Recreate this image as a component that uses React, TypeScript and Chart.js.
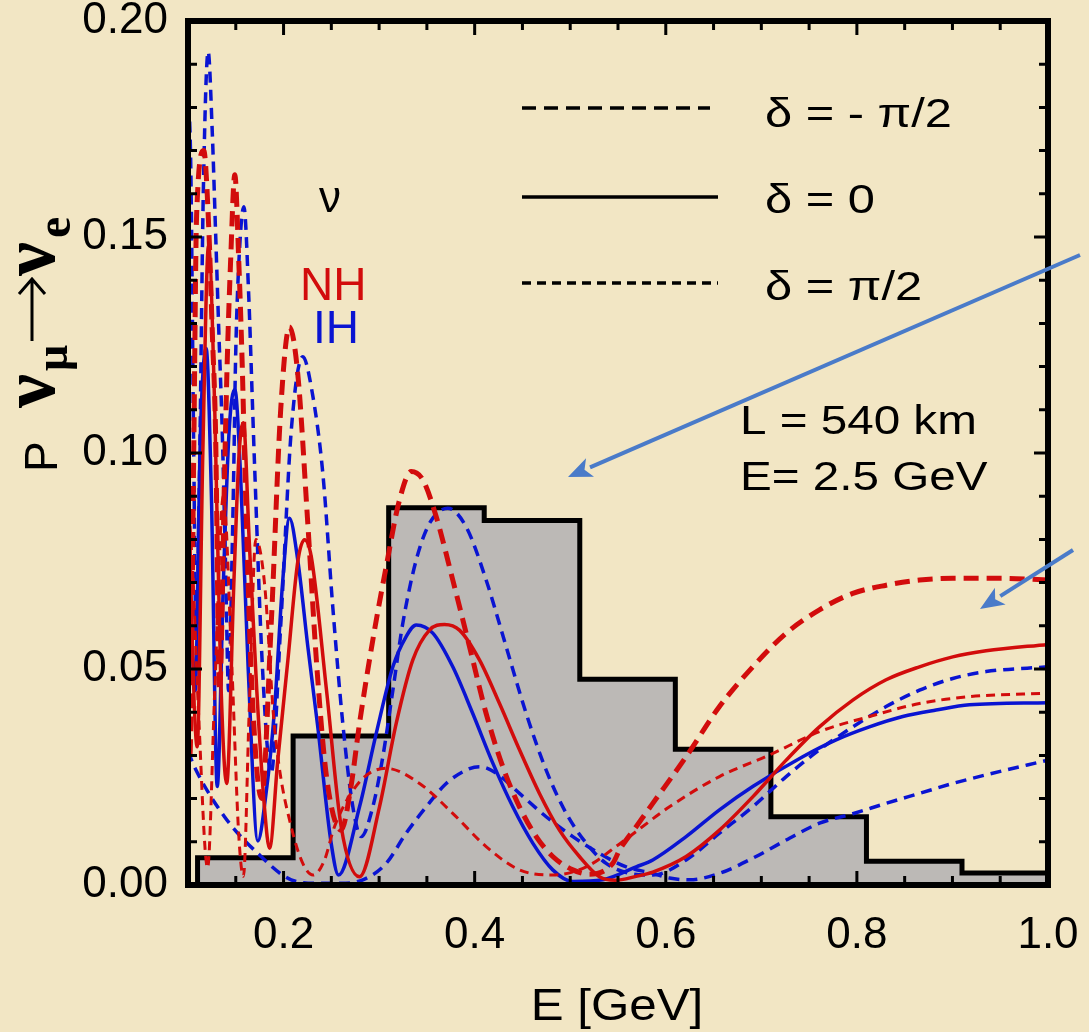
import React, { useEffect, useRef } from "react";
import { Chart, registerables } from "chart.js";

Chart.register(...registerables);

// ---------- data ----------
const binEdges = [0.11, 0.21, 0.31, 0.41, 0.51, 0.61, 0.71, 0.81, 0.91, 1.0];
const binValues = [0.0063, 0.0345, 0.0873, 0.0844, 0.0476, 0.0314, 0.0158, 0.0055, 0.0028];

// NH, delta = -pi/2  (red, thick long dash)
const nhMinus: [number, number][] = [
  [0.1, 0.035], [0.102, 0.03], [0.106, 0.1], [0.109, 0.155], [0.1165, 0.17], [0.1218, 0.1517],
  [0.1253, 0.1286], [0.1288, 0.1055], [0.133, 0.045], [0.1385, 0.0976], [0.141, 0.1208],
  [0.1445, 0.1439], [0.149, 0.1644], [0.1532, 0.144], [0.1567, 0.1208], [0.1594, 0.0976],
  [0.166, 0.05], [0.177, 0.02], [0.187, 0.06], [0.197, 0.11], [0.2062, 0.1292], [0.215, 0.118],
  [0.225, 0.085], [0.235, 0.05], [0.245, 0.025], [0.2603, 0.0127], [0.27, 0.022], [0.2795, 0.0374],
  [0.2934, 0.0567], [0.3074, 0.0737], [0.3213, 0.0891], [0.3336, 0.0957], [0.3457, 0.0938],
  [0.3597, 0.0853], [0.3771, 0.0706], [0.3946, 0.0552], [0.412, 0.0397], [0.4294, 0.0274],
  [0.4469, 0.0181], [0.4644, 0.0112], [0.4817, 0.0066], [0.5027, 0.0035], [0.52, 0.0025],
  [0.5445, 0.005], [0.5516, 0.0081], [0.569, 0.0135], [0.5864, 0.0189], [0.6213, 0.0297],
  [0.6562, 0.0413], [0.691, 0.0505], [0.726, 0.0583], [0.7608, 0.0637], [0.7957, 0.0675],
  [0.8306, 0.0694], [0.8655, 0.0706], [0.9003, 0.071], [0.95, 0.071], [1.0, 0.0706],
];

// NH, delta = 0  (red, solid)
const nhZero: [number, number][] = [
  [0.1, 0.1], [0.104, 0.06], [0.1096, 0.032], [0.1155, 0.1], [0.1215, 0.148], [0.128, 0.11],
  [0.134, 0.05], [0.1405, 0.0235], [0.148, 0.07], [0.1535, 0.1], [0.158, 0.107], [0.164, 0.08],
  [0.172, 0.045], [0.18, 0.018], [0.1853, 0.0085], [0.194, 0.029], [0.2045, 0.052], [0.215, 0.075],
  [0.2219, 0.0799], [0.229, 0.076], [0.245, 0.045], [0.2603, 0.0135], [0.2795, 0.0019],
  [0.3004, 0.0181], [0.3179, 0.0374], [0.3353, 0.0521], [0.3527, 0.059], [0.3684, 0.0603],
  [0.3841, 0.059], [0.405, 0.0521], [0.426, 0.042], [0.4469, 0.0313], [0.4678, 0.0212],
  [0.4887, 0.0127], [0.5096, 0.0066], [0.5306, 0.0019], [0.547, 0.0011], [0.569, 0.002],
  [0.5864, 0.003], [0.6213, 0.0066], [0.6562, 0.0127], [0.691, 0.0204], [0.726, 0.0289],
  [0.7608, 0.0366], [0.7957, 0.0428], [0.8306, 0.0475], [0.8655, 0.0505], [0.9003, 0.0528],
  [0.9352, 0.0542], [1.0, 0.0557],
];

// NH, delta = +pi/2  (red, thin short dash)
const nhPlus: [number, number][] = [
  [0.1, 0.09], [0.105, 0.072], [0.111, 0.04], [0.1205, 0.004], [0.128, 0.045], [0.137, 0.09],
  [0.146, 0.05], [0.153, 0.012], [0.158, 0.002], [0.164, 0.04], [0.171, 0.08], [0.18, 0.07],
  [0.1905, 0.0366], [0.208, 0.0135], [0.231, 0.0023], [0.2429, 0.0058], [0.2533, 0.0135],
  [0.28, 0.024], [0.3074, 0.027], [0.3423, 0.0235], [0.377, 0.0166], [0.412, 0.0089],
  [0.4469, 0.0035], [0.4817, 0.0023], [0.5167, 0.0042], [0.5516, 0.0095], [0.6039, 0.0181],
  [0.6562, 0.0251], [0.7086, 0.0301], [0.7608, 0.0355], [0.8131, 0.039], [0.8655, 0.042],
  [0.9178, 0.0436], [1.0, 0.0444],
];

// IH, delta = 0  (blue, solid)
const ihZero: [number, number][] = [
  [0.1, 0.085], [0.1035, 0.06], [0.1075, 0.045], [0.1131, 0.1053], [0.119, 0.1242], [0.1245, 0.09],
  [0.1306, 0.0228], [0.137, 0.07], [0.143, 0.105], [0.149, 0.1147], [0.155, 0.095], [0.163, 0.05],
  [0.1731, 0.0102], [0.181, 0.02], [0.1905, 0.0405], [0.199, 0.07], [0.2062, 0.0849], [0.215, 0.075],
  [0.2255, 0.055], [0.2358, 0.0366], [0.2498, 0.0097], [0.2575, 0.0023], [0.2795, 0.0181],
  [0.297, 0.0351], [0.3144, 0.0505], [0.3283, 0.0575], [0.3388, 0.0602], [0.3562, 0.0583],
  [0.3771, 0.0505], [0.398, 0.0397], [0.419, 0.0282], [0.4399, 0.0181], [0.4608, 0.0097],
  [0.4817, 0.0035], [0.5027, 0.0008], [0.534, 0.0012], [0.569, 0.0042], [0.5864, 0.0058],
  [0.6213, 0.0112], [0.6562, 0.0174], [0.691, 0.0228], [0.7433, 0.0297], [0.7783, 0.0336],
  [0.8131, 0.0366], [0.848, 0.039], [0.8829, 0.0405], [0.9178, 0.0417], [1.0, 0.0422],
];

// IH, delta = -pi/2  (blue, dash)
const ihMinus: [number, number][] = [
  [0.1, 0.185], [0.103, 0.165], [0.106, 0.1], [0.1085, 0.058], [0.112, 0.095], [0.116, 0.16],
  [0.1211, 0.1929], [0.1253, 0.1748], [0.1288, 0.1516], [0.1322, 0.1285], [0.1358, 0.1053],
  [0.1392, 0.075], [0.1425, 0.045], [0.146, 0.075], [0.148, 0.0976], [0.1497, 0.1208],
  [0.1532, 0.144], [0.1585, 0.157], [0.1636, 0.1362], [0.1672, 0.113], [0.1696, 0.0976],
  [0.178, 0.05], [0.187, 0.0259], [0.197, 0.06], [0.208, 0.105], [0.2201, 0.1223], [0.23, 0.114],
  [0.2411, 0.0953], [0.2515, 0.0644], [0.262, 0.0374], [0.2725, 0.0181], [0.2812, 0.0112],
  [0.2934, 0.0181], [0.3039, 0.0297], [0.3144, 0.0451], [0.3248, 0.0606], [0.3388, 0.0752],
  [0.3527, 0.0837], [0.3719, 0.0872], [0.3911, 0.0829], [0.412, 0.0706], [0.4329, 0.0552],
  [0.4539, 0.0397], [0.4748, 0.0266], [0.4958, 0.0166], [0.5167, 0.0097], [0.5376, 0.005],
  [0.562, 0.0027], [0.5864, 0.0023], [0.6213, 0.0058], [0.6562, 0.012], [0.691, 0.0181],
  [0.726, 0.0251], [0.7608, 0.0313], [0.7957, 0.0366], [0.8306, 0.0413], [0.8655, 0.0451],
  [0.9003, 0.0478], [0.9352, 0.0494], [1.0, 0.0505],
];

// IH, delta = +pi/2  (blue, dash)
const ihPlus: [number, number][] = [
  [0.1, 0.031], [0.1066, 0.0274], [0.1382, 0.0158], [0.1731, 0.0073], [0.208, 0.0012],
  [0.235, 0.0004], [0.26, 0.0004], [0.283, 0.0012], [0.3074, 0.005], [0.3283, 0.012],
  [0.3493, 0.0181], [0.3702, 0.0235], [0.3911, 0.0266], [0.405, 0.0274], [0.4225, 0.0259],
  [0.4469, 0.0212], [0.4748, 0.0158], [0.5027, 0.0112], [0.5306, 0.0073], [0.5586, 0.0042],
  [0.5864, 0.0027], [0.6039, 0.0016], [0.625, 0.0012], [0.6562, 0.0027], [0.691, 0.0062],
  [0.726, 0.0104], [0.7608, 0.0143], [0.7957, 0.0165], [0.8306, 0.0189], [0.8655, 0.0212],
  [0.9003, 0.0235], [0.9352, 0.0255], [1.0, 0.0289],
];

const xMajorTicks = [0.2, 0.4, 0.6, 0.8, 1.0];
const xMinorTicks = [0.15, 0.25, 0.3, 0.35, 0.45, 0.5, 0.55, 0.65, 0.7, 0.75, 0.85, 0.9, 0.95];
const yMajorTicks = [0, 0.05, 0.1, 0.15, 0.2];
const yMinorTicks = [0.01, 0.02, 0.03, 0.04, 0.06, 0.07, 0.08, 0.09, 0.11, 0.12, 0.13, 0.14, 0.16, 0.17, 0.18, 0.19];

// ---------- styles ----------
const BG = "#f2e6c4";
const RED = "#d20c0c";
const BLUE = "#0a14d2";
const ARROW = "#4a7bc9";
const SANS = "'Liberation Sans', Arial, sans-serif";
const SERIF = "'Liberation Serif', 'DejaVu Serif', serif";

const toXY = (arr: [number, number][]) => arr.map(([x, y]) => ({ x, y }));

const histPoints = [
  { x: binEdges[0], y: 0 },
  ...binValues.map((v, i) => ({ x: binEdges[i + 1], y: v })),
];

function drawArrow(ctx: CanvasRenderingContext2D, x1: number, y1: number, x2: number, y2: number) {
  const ang = Math.atan2(y2 - y1, x2 - x1);
  const head = 24;
  const hw = 10;
  const bx = x2 - head * Math.cos(ang);
  const by = y2 - head * Math.sin(ang);
  ctx.strokeStyle = ARROW;
  ctx.fillStyle = ARROW;
  ctx.lineWidth = 4;
  ctx.setLineDash([]);
  ctx.beginPath();
  ctx.moveTo(x1, y1);
  ctx.lineTo(bx, by);
  ctx.stroke();
  ctx.beginPath();
  ctx.moveTo(x2, y2);
  ctx.lineTo(bx + hw * Math.sin(ang), by - hw * Math.cos(ang));
  ctx.lineTo(bx + 6 * Math.cos(ang), by + 6 * Math.sin(ang));
  ctx.lineTo(bx - hw * Math.sin(ang), by + hw * Math.cos(ang));
  ctx.closePath();
  ctx.fill();
}

function rotText(ctx: CanvasRenderingContext2D, text: string, font: string, startY: number, baseX: number) {
  ctx.save();
  ctx.translate(baseX, startY);
  ctx.rotate(-Math.PI / 2);
  ctx.font = font;
  ctx.textAlign = "left";
  ctx.textBaseline = "alphabetic";
  ctx.fillText(text, 0, 0);
  ctx.restore();
}

function wideText(ctx: CanvasRenderingContext2D, text: string, font: string, x: number, y: number, sx: number, align: CanvasTextAlign = "left") {
  ctx.save();
  ctx.translate(x, y);
  ctx.scale(sx, 1);
  ctx.font = font;
  ctx.textAlign = align;
  ctx.textBaseline = "alphabetic";
  ctx.fillText(text, 0, 0);
  ctx.restore();
}

const decor = {
  id: "decor",
  beforeDraw(chart: any) {
    const { ctx, width, height } = chart;
    ctx.save();
    ctx.fillStyle = BG;
    ctx.fillRect(0, 0, width, height);
    ctx.restore();
  },
  afterDatasetsDraw(chart: any) {
    const { ctx, chartArea: a } = chart;
    const xs = chart.scales.x;
    const ys = chart.scales.y;
    ctx.save();
    ctx.strokeStyle = "#000";
    ctx.lineWidth = 3;
    ctx.setLineDash([]);
    const xt = (v: number, len: number) => {
      const p = xs.getPixelForValue(v);
      ctx.beginPath();
      ctx.moveTo(p, a.bottom);
      ctx.lineTo(p, a.bottom - len);
      ctx.moveTo(p, a.top);
      ctx.lineTo(p, a.top + len);
      ctx.stroke();
    };
    const yt = (v: number, len: number) => {
      const p = ys.getPixelForValue(v);
      ctx.beginPath();
      ctx.moveTo(a.left, p);
      ctx.lineTo(a.left + len, p);
      ctx.moveTo(a.right, p);
      ctx.lineTo(a.right - len, p);
      ctx.stroke();
    };
    xMajorTicks.forEach((v) => xt(v, 14));
    xMinorTicks.forEach((v) => xt(v, 9));
    yMajorTicks.forEach((v) => yt(v, 14));
    yMinorTicks.forEach((v) => yt(v, 9));
    ctx.lineWidth = 6;
    ctx.strokeRect(a.left, a.top, a.right - a.left, a.bottom - a.top);
    ctx.restore();
  },
  afterDraw(chart: any) {
    const { ctx } = chart;
    ctx.save();
    ctx.fillStyle = "#000";

    // y-axis title: P  nu_mu -> nu_e (rotated)
    rotText(ctx, "P", `46px ${SANS}`, 472, 57);
    rotText(ctx, "\u03bd", `bold 76px ${SERIF}`, 408, 54);
    rotText(ctx, "\u03bc", `bold 46px ${SERIF}`, 371, 67);
    rotText(ctx, "\u03bd", `bold 76px ${SERIF}`, 276, 54);
    rotText(ctx, "e", `bold 48px ${SERIF}`, 238, 70);
    ctx.strokeStyle = "#000";
    ctx.lineWidth = 3;
    ctx.beginPath();
    ctx.moveTo(32, 341);
    ctx.lineTo(32, 279);
    ctx.moveTo(19, 294);
    ctx.lineTo(32, 279);
    ctx.lineTo(45, 294);
    ctx.stroke();

    // x-axis title
    wideText(ctx, "E [GeV]", `44px ${SANS}`, 617, 1020, 1.12, "center");

    // annotations
    ctx.textAlign = "left";
    ctx.textBaseline = "alphabetic";
    ctx.font = `44px ${SANS}`;
    ctx.fillText("\u03bd", 319, 212);
    ctx.font = `46px ${SANS}`;
    ctx.fillStyle = RED;
    ctx.fillText("NH", 300, 300);
    ctx.fillStyle = BLUE;
    ctx.fillText("IH", 313, 343);

    ctx.fillStyle = "#000";
    wideText(ctx, "\u03b4 = - \u03c0/2", `40px ${SANS}`, 765, 127, 1.22);
    wideText(ctx, "\u03b4 = 0", `40px ${SANS}`, 765, 213, 1.22);
    wideText(ctx, "\u03b4 = \u03c0/2", `40px ${SANS}`, 765, 300, 1.22);
    wideText(ctx, "L = 540 km", `40px ${SANS}`, 740, 434, 1.19);
    wideText(ctx, "E= 2.5 GeV", `40px ${SANS}`, 740, 490, 1.19);

    // legend sample lines
    ctx.strokeStyle = "#000";
    ctx.lineWidth = 3.5;
    ctx.setLineDash([14, 8]);
    ctx.beginPath();
    ctx.moveTo(522, 108);
    ctx.lineTo(710, 108);
    ctx.stroke();
    ctx.setLineDash([]);
    ctx.beginPath();
    ctx.moveTo(522, 197);
    ctx.lineTo(718, 197);
    ctx.stroke();
    ctx.setLineDash([9, 6]);
    ctx.beginPath();
    ctx.moveTo(522, 283);
    ctx.lineTo(718, 283);
    ctx.stroke();
    ctx.setLineDash([]);

    // blue arrows
    drawArrow(ctx, 1080, 255, 568, 477);
    drawArrow(ctx, 1073, 550, 980, 609);
    ctx.restore();
  },
};

export default function App() {
  const ref = useRef<HTMLCanvasElement | null>(null);
  useEffect(() => {
    if (!ref.current) return;
    const line = (data: [number, number][], color: string, width: number, dash: number[]) => ({
      data: toXY(data),
      borderColor: color,
      borderWidth: width,
      borderDash: dash,
      pointRadius: 0,
      fill: false,
      cubicInterpolationMode: "monotone" as const,
      order: 0,
    });
    const chart = new Chart(ref.current, {
      type: "line",
      data: {
        datasets: [
          line(nhMinus, RED, 5, [15, 8]),
          line(nhZero, RED, 3.5, []),
          line(nhPlus, RED, 3, [9, 6]),
          line(ihMinus, BLUE, 3.5, [11, 7]),
          line(ihZero, BLUE, 3.5, []),
          line(ihPlus, BLUE, 3.5, [11, 7]),
          {
            data: histPoints,
            borderColor: "#000",
            borderWidth: 5,
            backgroundColor: "#bcb9b6",
            fill: "origin",
            stepped: "after",
            pointRadius: 0,
            order: 1,
          } as any,
        ],
      },
      options: {
        animation: false,
        responsive: false,
        maintainAspectRatio: false,
        layout: { padding: { top: 21, right: 41, left: 0, bottom: 0 } },
        plugins: { legend: { display: false }, tooltip: { enabled: false } },
        scales: {
          x: {
            type: "linear",
            min: 0.1,
            max: 1.0,
            grid: { display: false },
            border: { display: false },
            afterBuildTicks: (s: any) => {
              s.ticks = xMajorTicks.map((v) => ({ value: v }));
            },
            afterFit: (s: any) => {
              s.height = 147;
              s.paddingLeft = 0;
              s.paddingRight = 0;
              s.paddingTop = 0;
              s.paddingBottom = 0;
            },
            ticks: {
              color: "#000",
              font: { family: SANS, size: 44 },
              padding: 16,
              maxRotation: 0,
              autoSkip: false,
              callback: (v: any) => Number(v).toFixed(1),
            },
          },
          y: {
            type: "linear",
            min: 0,
            max: 0.2,
            grid: { display: false },
            border: { display: false },
            afterBuildTicks: (s: any) => {
              s.ticks = yMajorTicks.map((v) => ({ value: v }));
            },
            afterFit: (s: any) => {
              s.width = 188;
              s.paddingLeft = 0;
              s.paddingRight = 0;
              s.paddingTop = 0;
              s.paddingBottom = 0;
            },
            ticks: {
              color: "#000",
              font: { family: SANS, size: 44 },
              padding: 12,
              autoSkip: false,
              callback: (v: any) => Number(v).toFixed(2),
            },
          },
        },
      },
      plugins: [decor],
    });
    return () => chart.destroy();
  }, []);
  return (
    <div style={{ position: "absolute", left: 0, top: 0, width: 1089, height: 1032 }}>
      <canvas ref={ref} width={1089} height={1032} style={{ width: 1089, height: 1032, display: "block" }} />
    </div>
  );
}
